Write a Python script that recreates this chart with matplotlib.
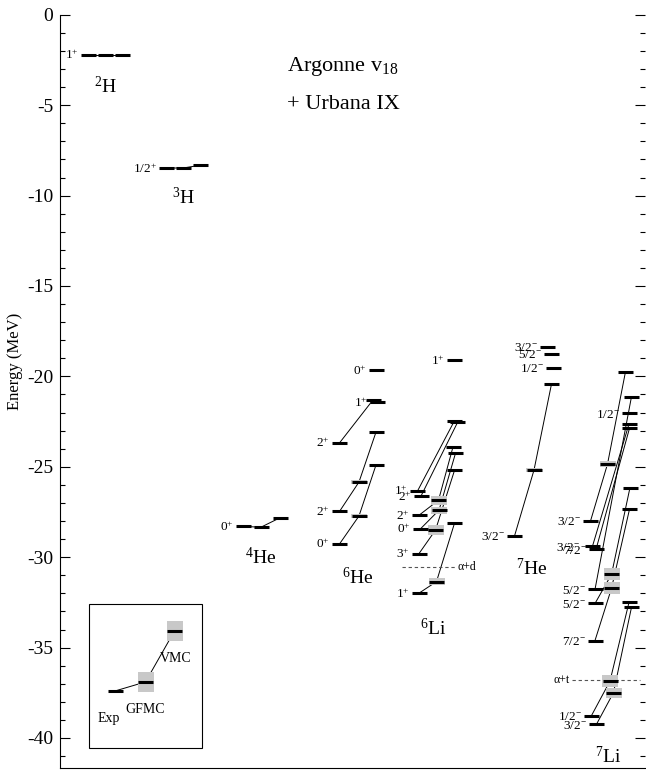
import numpy as np
import matplotlib
matplotlib.use("Agg")
import matplotlib.pyplot as plt
from matplotlib.patches import Rectangle

plt.rcParams["font.family"] = ["Liberation Serif", "DejaVu Serif"]
plt.rcParams["mathtext.fontset"] = "custom"
plt.rcParams["mathtext.rm"] = "Liberation Serif"
plt.rcParams["mathtext.it"] = "Liberation Serif:italic"
plt.rcParams["mathtext.bf"] = "Liberation Serif:bold"
plt.rcParams["axes.unicode_minus"] = False

nan = np.nan

# ---------------- level energies (MeV) ----------------
# each state: experiment, GFMC (with error), VMC; nan = not available
H2_JP = ["1+"]
H2_EXP = [-2.22]
H2_GFMC = [-2.22]
H2_GERR = [0.0]
H2_VMC = [-2.22]

H3_JP = ["1/2+"]
H3_EXP = [-8.48]
H3_GFMC = [-8.47]
H3_GERR = [0.0]
H3_VMC = [-8.32]

HE4_JP = ["0+"]
HE4_EXP = [-28.30]
HE4_GFMC = [-28.34]
HE4_GERR = [0.0]
HE4_VMC = [-27.82]

HE6_JP = ["0+", "2+", "2+", "1+", "0+"]
HE6_EXP = [-29.27, -27.47, -23.68, nan, nan]
HE6_GFMC = [-27.72, -25.84, nan, nan, nan]
HE6_GERR = [0.12, 0.12, 0.0, 0.0, 0.0]
HE6_VMC = [-24.90, -23.08, -21.30, -21.42, -19.65]

LI6_JP = ["1+", "3+", "0+", "2+", "2+", "1+", "1+"]
LI6_EXP = [-31.99, -29.80, -28.43, -27.68, -26.62, -26.34, nan]
LI6_GFMC = [-31.35, -28.50, -27.40, -26.85, nan, nan, nan]
LI6_GERR = [0.20, 0.30, 0.20, 0.25, 0.0, 0.0, 0.0]
LI6_VMC = [-28.12, -25.20, -24.25, -23.90, -22.55, -22.45, -19.10]

HE7_JP = ["3/2-", "1/2-", "5/2-", "3/2-"]
HE7_EXP = [-28.83, nan, nan, nan]
HE7_GFMC = [-25.18, nan, nan, nan]
HE7_GERR = [0.12, 0.0, 0.0, 0.0]
HE7_VMC = [-20.42, -19.52, -18.76, -18.36]

LI7_JP = ["3/2-", "1/2-", "7/2-", "5/2-", "5/2-", "7/2-", "3/2-", "3/2-", "1/2-"]
LI7_EXP = [-39.24, -38.76, -34.61, -32.56, -31.78, -29.57, -29.39, -28.00, nan]
LI7_GFMC = [-37.49, -36.85, -31.72, -30.95, nan, nan, nan, -24.85, nan]
LI7_GERR = [0.28, 0.32, 0.33, 0.33, 0.0, 0.0, 0.0, 0.15, 0.0]
LI7_VMC = [-32.77, -32.50, -27.35, -26.15, -21.12, -22.87, -22.63, -19.74, -22.04]

NUCLEUS_NAMES = ["2H", "3H", "4He", "6He", "6Li", "7He", "7Li"]

THRESH_E = [-30.52, -36.78]
THRESH_NAMES = ["\u03b1+d", "\u03b1+t"]

LEGEND_NAMES = ["Exp", "GFMC", "VMC"]
LEGEND_E = [-37.40, -36.90, -34.08]
LEGEND_ERR = [0.0, 0.55, 0.53]

# ---------------- layout ----------------
BW = 15.0          # bar width (x units)
GRAY = "#c8c8c8"

fig = plt.figure(figsize=(6.46, 7.75), dpi=100)
ax = fig.add_axes([60 / 646, 1 - 768 / 775, 585 / 646, (768 - 14.8) / 775])
ax.set_xlim(60, 645)
ax.set_ylim(-41.66, 0)


def jp_text(s):
    return r"$\mathregular{" + s[:-1] + "^{" + s[-1] + "}}$"


def draw_nucleus(jp, exp, gfmc, gerr, vmc, cols, offs=None, lab_dx=None):
    n = len(jp)
    offs = offs or [(0, 0, 0)] * n
    lab_dx = lab_dx or [0] * n
    for i in range(n):
        pts = []
        for c, (e, err) in enumerate([(exp[i], 0.0), (gfmc[i], gerr[i]), (vmc[i], 0.0)]):
            if np.isnan(e):
                continue
            xc = cols[c] + offs[i][c]
            if err > 0:
                ax.add_patch(Rectangle((xc - BW / 2 - 0.5, e - err), BW + 1, 2 * err,
                                       facecolor=GRAY, edgecolor="none", zorder=2))
            ax.plot([xc - BW / 2, xc + BW / 2], [e, e], color="black", lw=2.2,
                    solid_capstyle="butt", zorder=3)
            pts.append((xc, e))
        if len(pts) > 1:
            ax.plot([p[0] for p in pts], [p[1] for p in pts], color="black",
                    lw=0.7, zorder=1)
        x0, e0 = pts[0]
        ax.annotate(jp_text(jp[i]), xy=(x0 - BW / 2 - 2.0 - lab_dx[i], e0),
                    xytext=(0, -3.2), textcoords="offset points",
                    ha="right", va="baseline", fontsize=9.5, zorder=4)


draw_nucleus(H2_JP, H2_EXP, H2_GFMC, H2_GERR, H2_VMC, (88.5, 105.5, 122.5))
draw_nucleus(H3_JP, H3_EXP, H3_GFMC, H3_GERR, H3_VMC, (166.5, 183.5, 200.5))
draw_nucleus(HE4_JP, HE4_EXP, HE4_GFMC, HE4_GERR, HE4_VMC, (243.5, 261.0, 280.0))
draw_nucleus(HE6_JP, HE6_EXP, HE6_GFMC, HE6_GERR, HE6_VMC, (339.5, 359.0, 376.0),
             offs=[(0, 0, 0), (0, 0, 0), (0, 0, -3), (0, 0, 1), (0, 0, 0)])
draw_nucleus(LI6_JP, LI6_EXP, LI6_GFMC, LI6_GERR, LI6_VMC, (419.0, 436.5, 454.5),
             offs=[(0, 0, 0), (0, -1, 0), (1.5, 2.5, 1), (0, 2, -1.5),
                   (2, 0, 3), (-1.5, 0, 0), (0, 0, 0)])
draw_nucleus(HE7_JP, HE7_EXP, HE7_GFMC, HE7_GERR, HE7_VMC, (514.5, 534.0, 552.0),
             offs=[(0, 0, -0.5), (0, 0, 1.5), (0, 0, -0.5), (0, 0, -4.5)])
draw_nucleus(LI7_JP, LI7_EXP, LI7_GFMC, LI7_GERR, LI7_VMC, (594.0, 611.5, 629.5),
             offs=[(2.5, 2, 2), (-2.5, -1.5, -0.5), (1, 0, 0), (1, 0, 0.5), (1, 0, 2),
                   (2, 0, 0), (-1.5, 0, -0.5), (-3.5, -4, -4), (0, 0, 0)],
             lab_dx=[0, 0, 0, 0, 0, 0, 3, 0, 0])

# nucleus names, centred under the GFMC column
name_pos = [(105.5, -3.94), (183.5, -10.13), (261.0, -29.99), (358.0, -31.15),
            (433.0, -33.92), (532.0, -30.60), (608.0, -41.05)]
for name, (x, y) in zip(NUCLEUS_NAMES, name_pos):
    a = "".join(ch for ch in name if ch.isdigit())
    sym = "".join(ch for ch in name if ch.isalpha())
    ax.text(x, y, r"$\mathregular{^{" + a + "}" + sym + "}$", ha="center",
            va="center", fontsize=14)

# breakup thresholds
ax.plot([402, 457], [THRESH_E[0]] * 2, color="#555555", lw=0.8, ls=(0, (3, 2.5)), zorder=1)
ax.text(458, THRESH_E[0], THRESH_NAMES[0], ha="left", va="center", fontsize=8.5)
ax.plot([572, 640], [THRESH_E[1]] * 2, color="#555555", lw=0.8, ls=(0, (3, 2.5)), zorder=1)
ax.text(570, THRESH_E[1], THRESH_NAMES[1], ha="right", va="center", fontsize=8.5)

# interaction title
ax.text(343, -2.85, r"Argonne v$\mathregular{_{18}}$", ha="center", va="center", fontsize=16)
ax.text(343, -4.95, "+ Urbana IX", ha="center", va="center", fontsize=16)

# key box
ax.add_patch(Rectangle((89, -40.55), 113, 7.96, facecolor="none",
                       edgecolor="black", lw=0.8, zorder=1))
key_x = [115.0, 145.5, 174.5]
for xc, e, err in zip(key_x, LEGEND_E, LEGEND_ERR):
    if err > 0:
        ax.add_patch(Rectangle((xc - BW / 2 - 0.5, e - err), BW + 1, 2 * err,
                               facecolor=GRAY, edgecolor="none", zorder=2))
    ax.plot([xc - BW / 2, xc + BW / 2], [e, e], color="black", lw=2.2,
            solid_capstyle="butt", zorder=3)
ax.plot(key_x, LEGEND_E, color="black", lw=0.7, zorder=1)
for name, (x, y) in zip(LEGEND_NAMES, [(109, -38.9), (145, -38.45), (176, -35.63)]):
    ax.text(x, y, name, ha="center", va="center", fontsize=10)

# axes styling
ax.spines["top"].set_visible(False)
ax.spines["right"].set_visible(False)
ax.spines["left"].set_linewidth(0.8)
ax.spines["bottom"].set_linewidth(0.8)
ax.set_xticks([])
ax.set_yticks(np.arange(-40, 1, 5))
ax.set_yticks(np.arange(-41, 1, 1), minor=True)
ax.tick_params(axis="y", which="both", direction="in", left=True, right=True,
               width=0.8, labelsize=14, pad=5)
ax.tick_params(axis="y", which="major", length=7)
ax.tick_params(axis="y", which="minor", length=3.5)
ax.set_ylabel("Energy (MeV)", fontsize=12)
ax.yaxis.set_label_coords(-0.064, 0.54)

fig.savefig("out.png", dpi=100)
